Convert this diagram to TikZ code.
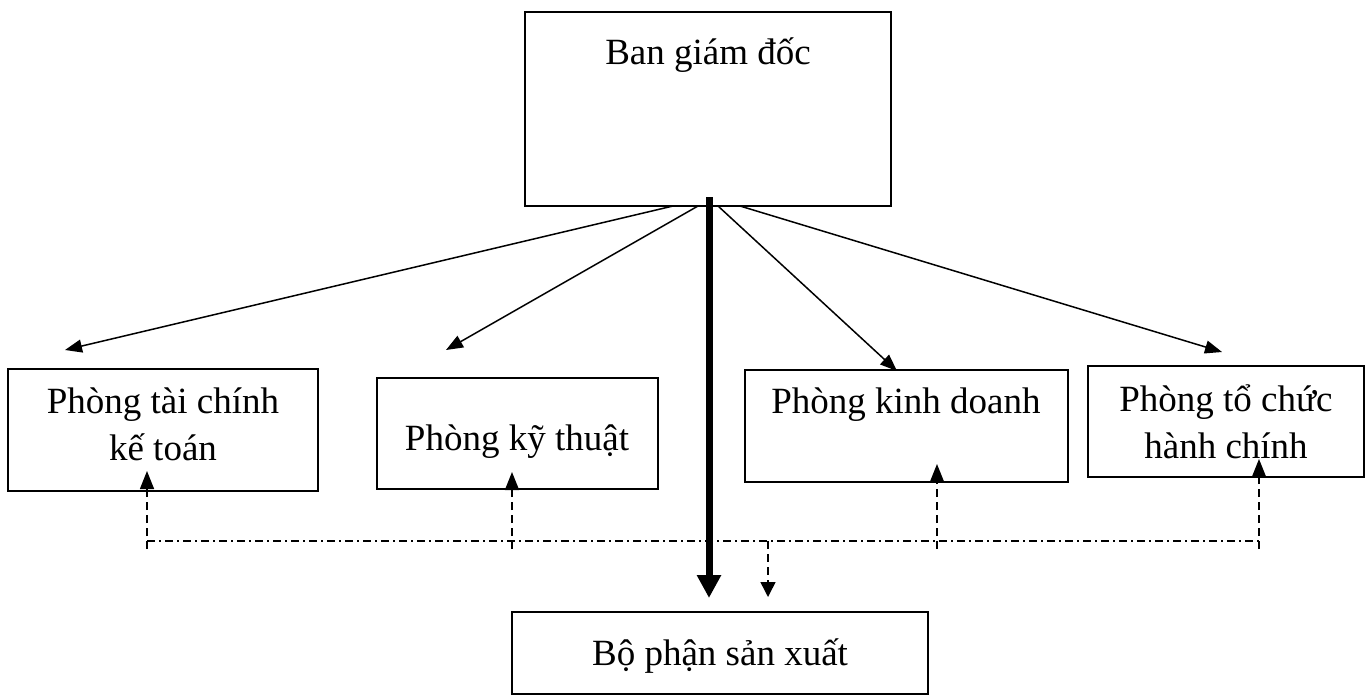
\documentclass[tikz,border=0pt]{standalone}
\usepackage{fontspec}
\setmainfont{Liberation Serif}
\usetikzlibrary{arrows.meta}
\begin{document}
\begin{tikzpicture}[x=1pt,y=-1pt,
  box/.style={draw=black, line width=1.5pt, rectangle, inner sep=0pt},
  lbl/.style={font=\fontsize{37}{46}\selectfont, inner sep=0pt, anchor=base},
  link/.style={line width=1.5pt, -{Triangle[length=17pt,width=13pt]}},
  mainflow/.style={line width=7pt, -{Triangle[length=23pt,width=23pt]}},
  feedback/.style={line width=1.5pt, dash pattern=on 8pt off 5pt, -{Triangle[length=18pt,width=14pt]}},
  dotdash/.style={line width=1.5pt, dash pattern=on 8pt off 4pt on 2pt off 4pt}
]
\useasboundingbox (0,0) rectangle (1372,696);

% boxes
\node[box, minimum width=366pt, minimum height=194pt] (bgd) at (708,109) {};
\node[box, minimum width=310pt, minimum height=122pt] (tck) at (163,430) {};
\node[box, minimum width=281pt, minimum height=111pt] (kt)  at (517.5,433.5) {};
\node[box, minimum width=323pt, minimum height=112pt] (kd)  at (906.5,426) {};
\node[box, minimum width=276pt, minimum height=111pt] (tc)  at (1226,421.5) {};
\node[box, minimum width=416pt, minimum height=82pt]  (sx)  at (720,653) {};

% labels
\node[lbl] (bgdt) at (708,64) {Ban giám đốc};
\node[lbl] (tck1) at (163,413) {Phòng tài chính};
\node[lbl] (tck2) at (163,460) {kế toán};
\node[lbl] (ktt)  at (517,450) {Phòng kỹ thuật};
\node[lbl] (kdt)  at (906,413) {Phòng kinh doanh};
\node[lbl] (tc1)  at (1226,411) {Phòng tổ chức};
\node[lbl] (tc2)  at (1226,458) {hành chính};
\node[lbl] (sxt)  at (720,665) {Bộ phận sản xuất};

% start and end points of the directives
\coordinate (s1) at (673,206);
\coordinate (s2) at (698,206);
\coordinate (s3) at (718,206);
\coordinate (s4) at (740,206);
\coordinate (e1) at (65,350);
\coordinate (e2) at (446,350);
\coordinate (e3) at (897,371);
\coordinate (e4) at (1222,352);
\draw[link] (s1) -- (e1);
\draw[link] (s2) -- (e2);
\draw[link] (s3) -- (e3);
\draw[link] (s4) -- (e4);

% main flow to production
\coordinate (m0) at (709,197);
\coordinate (m1) at (709,598);
\draw[mainflow] (m0) -- (m1);

% coordination line
\coordinate (h1) at (147,541);
\coordinate (h4) at (1259,541);
\draw[dotdash] (h1) -- (h4);

\coordinate (b1) at (147,549);  \coordinate (t1) at (147,471);
\coordinate (b2) at (512,549);  \coordinate (t2) at (512,472);
\coordinate (b3) at (937,549);  \coordinate (t3) at (937,464);
\coordinate (b4) at (1259,549); \coordinate (t4) at (1259,459);
\draw[feedback] (b1) -- (t1);
\draw[feedback] (b2) -- (t2);
\draw[feedback] (b3) -- (t3);
\draw[feedback] (b4) -- (t4);

\coordinate (d0) at (768,541);
\coordinate (d1) at (768,597);
\draw[feedback, -{Triangle[length=15pt,width=15pt]}] (d0) -- (d1);
\end{tikzpicture}
\end{document}
